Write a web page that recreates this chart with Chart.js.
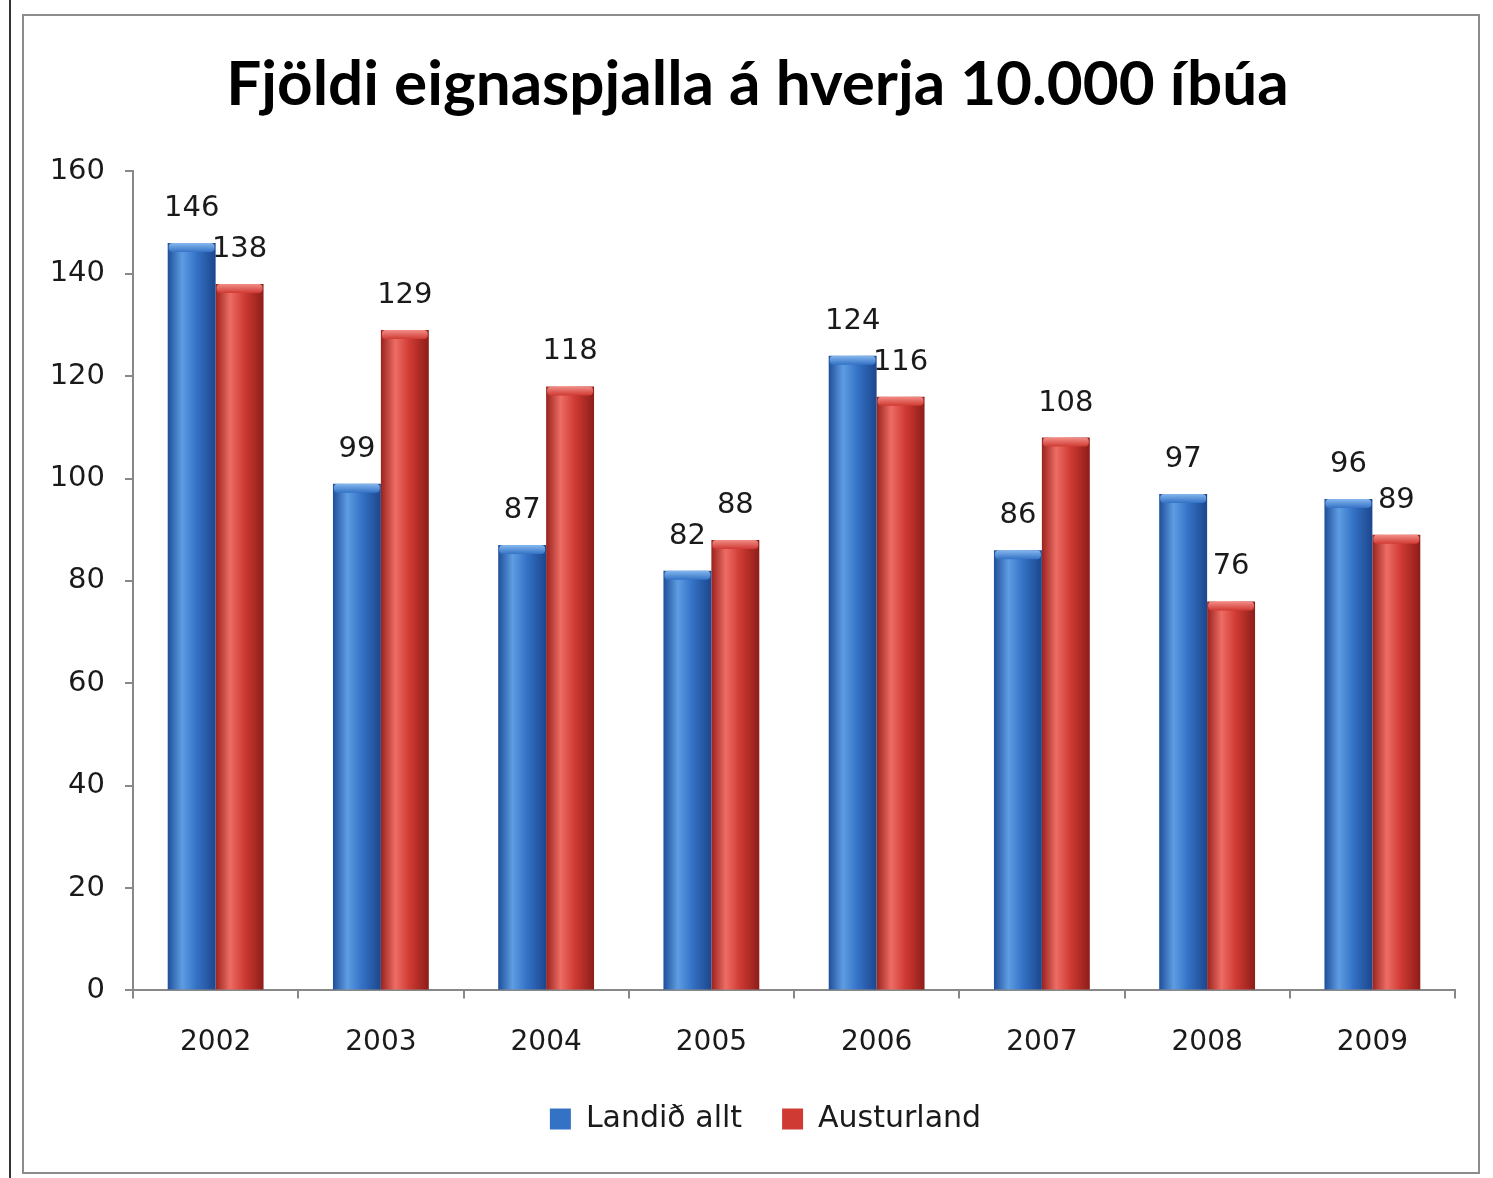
<!DOCTYPE html>
<html>
<head>
<meta charset="utf-8">
<script src="https://cdn.jsdelivr.net/npm/chart.js@4"></script>
<style>
  html, body { margin: 0; padding: 0; background: #fff; }
  #wrap { position: relative; width: 1493px; height: 1178px; }
  canvas { position: absolute; left: 0; top: 0; }
  #edge { position: absolute; left: 9px; top: 0; width: 2px; height: 1178px; background: #333; }
  #frame { position: absolute; left: 22px; top: 14px; width: 1458px; height: 1160px; border: 2px solid #8c8c8c; box-sizing: border-box; pointer-events: none; }
</style>
</head>
<body>
<div id="wrap">
  <canvas id="chart" width="1493" height="1178"></canvas>
  <div id="edge"></div>
  <div id="frame"></div>
</div>
<script>
const years = ["2002", "2003", "2004", "2005", "2006", "2007", "2008", "2009"];
const landidAllt = [146, 99, 87, 82, 124, 86, 97, 96];
const austurland = [138, 129, 118, 88, 116, 108, 76, 89];
const yTicks = [0, 20, 40, 60, 80, 100, 120, 140, 160];

// edge, light, mid, edge, cap
const blueShade = ["#1f4f9a", "#5e9de2", "#3472c6", "#1c468c", "#86b8ee"];
const redShade = ["#9a221d", "#ec6d64", "#cf3a33", "#8c1d19", "#f28e87"];

const barLook = {
  id: "barLook",
  afterLayout(chart) {
    // title and legend sit a bit right of the full-width centre in the original
    chart.titleBlock.left += 15;
    chart.titleBlock.right += 15;
    chart.legend.left += 23;
    chart.legend.right += 23;
  },
  beforeDatasetsDraw(chart) {
    const ctx = chart.ctx;
    chart.data.datasets.forEach((ds, i) => {
      const c = ds.shade;
      chart.getDatasetMeta(i).data.forEach(bar => {
        const { x, width } = bar.getProps(["x", "width"], true);
        const g = ctx.createLinearGradient(x - width / 2, 0, x + width / 2, 0);
        g.addColorStop(0, c[0]);
        g.addColorStop(0.3, c[1]);
        g.addColorStop(0.6, c[2]);
        g.addColorStop(1, c[3]);
        bar.options.backgroundColor = g;
      });
    });
  },
  afterDatasetsDraw(chart) {
    const ctx = chart.ctx;
    ctx.save();
    chart.data.datasets.forEach((ds, i) => {
      const c = ds.shade;
      chart.getDatasetMeta(i).data.forEach((bar, j) => {
        const { x, y, width } = bar.getProps(["x", "y", "width"], true);
        // little top cap
        const g = ctx.createLinearGradient(0, y, 0, y + 9);
        g.addColorStop(0, c[4]);
        g.addColorStop(1, c[2]);
        ctx.fillStyle = g;
        ctx.beginPath();
        ctx.roundRect(x - width / 2 + 1, y, width - 2, 9, 4);
        ctx.fill();
        // value label
        ctx.fillStyle = "#1a1a1a";
        ctx.font = '29px "DejaVu Sans"';
        ctx.textAlign = "center";
        ctx.textBaseline = "alphabetic";
        ctx.fillText(String(ds.data[j]), x, y - 27);
      });
    });
    ctx.restore();
  }
};

new Chart(document.getElementById("chart"), {
  type: "bar",
  data: {
    labels: years,
    datasets: [
      {
        label: "Landið allt",
        data: landidAllt,
        shade: blueShade,
        backgroundColor: () => "#3472c6",
        borderWidth: 0
      },
      {
        label: "Austurland",
        data: austurland,
        shade: redShade,
        backgroundColor: () => "#cf3a33",
        borderWidth: 0
      }
    ]
  },
  options: {
    responsive: false,
    animation: false,
    categoryPercentage: 0.58,
    barPercentage: 1.0,
    layout: { padding: { left: 30, right: 38, top: 0, bottom: 34 } },
    plugins: {
      title: {
        display: true,
        text: "Fjöldi eignaspjalla á hverja 10.000 íbúa",
        color: "#000",
        font: { family: "Lato", size: 62, weight: "bold" },
        padding: { top: 48, bottom: 49 }
      },
      legend: {
        position: "bottom",
        labels: {
          color: "#1a1a1a",
          font: { family: "DejaVu Sans", size: 30 },
          boxWidth: 21,
          boxHeight: 21,
          padding: 40
        }
      },
      tooltip: { enabled: false }
    },
    scales: {
      y: {
        min: 0,
        max: 160,
        afterBuildTicks: s => { s.ticks = yTicks.map(v => ({ value: v })); },
        afterFit: s => { s.width = 103; },
        ticks: { color: "#1a1a1a", font: { family: "DejaVu Sans", size: 29 }, padding: 20 },
        grid: { drawOnChartArea: false, drawTicks: true, tickLength: 8, color: "#888", lineWidth: 2 },
        border: { color: "#888", width: 2 }
      },
      x: {
        afterFit: s => { s.height -= 24; },
        ticks: { color: "#1a1a1a", font: { family: "DejaVu Sans", size: 28 }, padding: 28 },
        grid: { offset: true, drawOnChartArea: false, drawTicks: true, tickLength: 8, color: "#888", lineWidth: 2 },
        border: { color: "#888", width: 2 }
      }
    }
  },
  plugins: [barLook]
});
</script>
</body>
</html>
